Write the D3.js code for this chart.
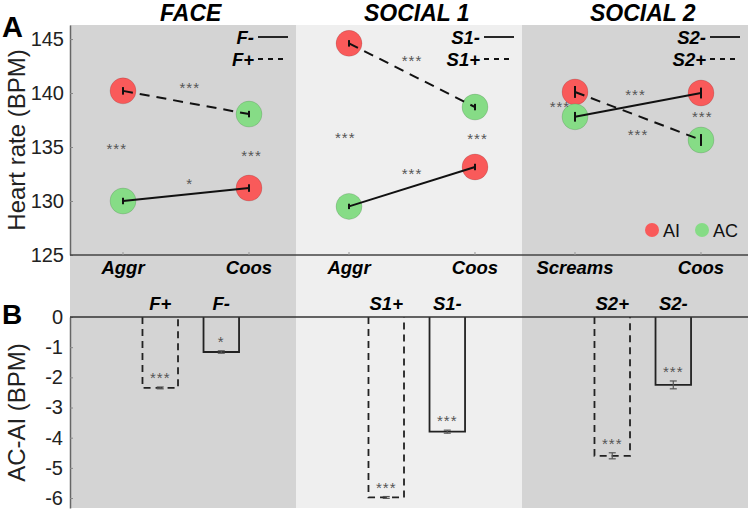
<!DOCTYPE html>
<html>
<head>
<meta charset="utf-8">
<script src="https://cdn.jsdelivr.net/npm/d3@7/dist/d3.min.js"></script>
<style>
  html, body { margin: 0; padding: 0; background: #fff; }
  svg { display: block; }
  text { font-family: "Liberation Sans", Arial, sans-serif; }
</style>
</head>
<body>
<svg id="chart" width="748" height="511"></svg>
<script>
// ---------------- DATA ----------------
const sections = ["FACE", "SOCIAL 1", "SOCIAL 2"];
const categories = [["Aggr", "Coos"], ["Aggr", "Coos"], ["Screams", "Coos"]];
const conditionLabels = [["F+", "F-"], ["S1+", "S1-"], ["S2+", "S2-"]];
const legendPlus = ["F+", "S1+", "S2+"];
const legendMinus = ["F-", "S1-", "S2-"];

// Panel A: heart rate (BPM)
// "+" condition (dashed): AI at first category -> AC at second category
const plusGroups = ["AI", "AC"];
const plusValues = [[140.2, 138.05], [144.6, 138.7], [140.1, 135.65]];
const plusErr = [[0.35, 0.3], [0.3, 0.3], [0.55, 0.55]];
// "-" condition (solid): AC at first category -> AI at second category
const minusGroups = ["AC", "AI"];
const minusValues = [[130.0, 131.2], [129.5, 133.15], [137.8, 140.0]];
const minusErr = [[0.3, 0.35], [0.25, 0.3], [0.45, 0.5]];

// significance marks in panel A: [section, position between categories (0..1), BPM, text]
const starsA = [
  [0, -0.05, 135.1, "***"], [0, 0.53, 140.7, "***"], [0, 1.02, 134.4, "***"], [0, 0.53, 131.85, "*"],
  [1, 0.5, 143.2, "***"], [1, -0.03, 136.1, "***"], [1, 1.02, 136.0, "***"], [1, 0.5, 132.8, "***"],
  [2, 0.48, 140.1, "***"], [2, -0.12, 139.0, "***"], [2, 1.01, 138.1, "***"], [2, 0.5, 136.4, "***"]
];

// Panel B: AC-AI (BPM), per section [plus, minus]
const diffValues = [[-2.35, -1.16], [-5.98, -3.8], [-4.6, -2.25]];
const diffErr = [[0.03, 0.04], [0.03, 0.05], [0.1, 0.13]];
const diffStars = [["***", "*"], ["***", "***"], ["***", "***"]];

const ticksA = [125, 130, 135, 140, 145];
const ticksB = [0, -1, -2, -3, -4, -5, -6];
const groupColors = { AI: "#f95a5a", AC: "#86dc86" };
const sectionFills = ["#d4d4d4", "#efefef", "#d4d4d4"];

// ---------------- SCALES ----------------
const svg = d3.select("#chart");
const left = 70, right = 748, topA = 25, bottomA = 255, zeroB = 317, bottomB = 508;

const xSec = d3.scaleBand().domain(sections).range([left, right]);
const bw = xSec.bandwidth();
const xPt = d3.scalePoint().domain([0, 1]).range([0, bw]).padding(0.397).align(0.53);
const xBar = d3.scaleBand().domain([0, 1]).range([0, bw]).paddingInner(0.418).paddingOuter(1.06).align(0.56);
const yA = d3.scaleLinear().domain([125, 146.3]).range([bottomA, topA]);
const yB = d3.scaleLinear().domain([-6.33, 0]).range([bottomB, zeroB]);

const ptX = (s, i) => xSec(sections[s]) + xPt(i);
const fracX = (s, f) => xSec(sections[s]) + xPt(0) + f * (xPt(1) - xPt(0));
const tickFmt = d => String(d);

// ---------------- BACKGROUNDS ----------------
svg.selectAll("rect.bg").data(sections).join("rect")
  .attr("class", "bg")
  .attr("x", d => xSec(d)).attr("width", bw)
  .attr("y", topA).attr("height", bottomB - topA)
  .attr("fill", (d, i) => sectionFills[i]);

// ---------------- TITLES ----------------
svg.selectAll("text.title").data(sections).join("text")
  .attr("class", "title")
  .attr("x", d => xSec(d) + (xBar(0) + xBar(1) + xBar.bandwidth()) / 2)
  .attr("y", 21)
  .attr("text-anchor", "middle")
  .attr("font-size", 23).attr("font-weight", "bold").attr("font-style", "italic")
  .text(d => d);

svg.append("text").attr("x", 2).attr("y", 37).attr("font-size", 29).attr("font-weight", "bold").text("A");
svg.append("text").attr("x", 2).attr("y", 324).attr("font-size", 28).attr("font-weight", "bold").text("B");

// ---------------- PANEL A AXES ----------------
const axA = svg.append("g").attr("transform", `translate(${left},0)`)
  .call(d3.axisLeft(yA).tickValues(ticksA).tickFormat(tickFmt).tickSize(-3).tickSizeOuter(0).tickPadding(6));
axA.select(".domain").attr("stroke", "#666").attr("stroke-width", 1.5);
axA.selectAll(".tick line").attr("stroke", "#888");
axA.selectAll(".tick text").attr("font-size", 20).attr("fill", "#222")
  .attr("font-family", "Liberation Sans, Arial, sans-serif");

svg.append("line").attr("x1", left).attr("x2", right).attr("y1", bottomA).attr("y2", bottomA)
  .attr("stroke", "#444").attr("stroke-width", 1.5);

svg.append("text")
  .attr("transform", `translate(25,${(topA + bottomA) / 2}) rotate(-90)`)
  .attr("text-anchor", "middle").attr("font-size", 24).attr("fill", "#222")
  .text("Heart rate (BPM)");

// category ticks and labels
sections.forEach((sec, s) => {
  [0, 1].forEach(i => {
    svg.append("line").attr("x1", ptX(s, i)).attr("x2", ptX(s, i))
      .attr("y1", bottomA).attr("y2", bottomA - 3).attr("stroke", "#999");
    svg.append("text").attr("x", ptX(s, i)).attr("y", 274)
      .attr("text-anchor", "middle").attr("font-size", 18.5)
      .attr("font-weight", "bold").attr("font-style", "italic")
      .text(categories[s][i]);
  });
});

// ---------------- PANEL A MARKS ----------------
const lineGen = d3.line().x(d => d.x).y(d => d.y);

function seriesPoints(values, groups, errs) {
  return values.map((vals, s) => vals.map((v, i) => ({
    s, i, v, group: groups[i], err: errs[s][i], x: ptX(s, i), y: yA(v)
  })));
}
const plusPts = seriesPoints(plusValues, plusGroups, plusErr);
const minusPts = seriesPoints(minusValues, minusGroups, minusErr);
const allPts = plusPts.flat().concat(minusPts.flat());

svg.selectAll("circle.pt").data(allPts).join("circle")
  .attr("class", "pt")
  .attr("cx", d => d.x).attr("cy", d => d.y).attr("r", 13)
  .attr("fill", d => groupColors[d.group])
  .attr("stroke", "rgba(0,0,0,0.12)").attr("stroke-width", 1);

// error bars
svg.selectAll("line.errA").data(allPts).join("line")
  .attr("class", "errA")
  .attr("x1", d => d.x).attr("x2", d => d.x)
  .attr("y1", d => yA(d.v - d.err)).attr("y2", d => yA(d.v + d.err))
  .attr("stroke", "#111").attr("stroke-width", 2);

svg.selectAll("path.plus").data(plusPts).join("path")
  .attr("class", "plus")
  .attr("d", d => lineGen(d)).attr("fill", "none")
  .attr("stroke", "#111").attr("stroke-width", 2).attr("stroke-dasharray", "10,7");
svg.selectAll("path.minus").data(minusPts).join("path")
  .attr("class", "minus")
  .attr("d", d => lineGen(d)).attr("fill", "none")
  .attr("stroke", "#111").attr("stroke-width", 2);

// stars in A
svg.selectAll("text.starA").data(starsA).join("text")
  .attr("class", "starA")
  .attr("x", d => fracX(d[0], d[1])).attr("y", d => yA(d[2]) + 8)
  .attr("text-anchor", "middle").attr("font-size", 15).attr("letter-spacing", 1)
  .attr("fill", "#555").text(d => d[3]);

// line-style legends
sections.forEach((sec, s) => {
  const end = xSec(sec) + bw;
  [[legendMinus[s], null, 44], [legendPlus[s], "5,5", 66]].forEach(([lab, dash, yy]) => {
    svg.append("text").attr("x", end - 42).attr("y", yy)
      .attr("text-anchor", "end")
      .attr("font-size", 18.5).attr("font-weight", "bold").attr("font-style", "italic").text(lab);
    svg.append("line").attr("x1", end - 38).attr("x2", end - 8)
      .attr("y1", yy - 7).attr("y2", yy - 7)
      .attr("stroke", "#111").attr("stroke-width", 1.8)
      .attr("stroke-dasharray", dash);
  });
});

// AI / AC legend
const legX = xSec(sections[2]) + bw;
[["AI", -96], ["AC", -46]].forEach(([g, off]) => {
  svg.append("circle").attr("cx", legX + off).attr("cy", 230).attr("r", 7).attr("fill", groupColors[g]);
  svg.append("text").attr("x", legX + off + 11).attr("y", 236.5)
    .attr("font-size", 18).attr("fill", "#111").text(g);
});

// ---------------- PANEL B ----------------
const axB = svg.append("g").attr("transform", `translate(${left},0)`)
  .call(d3.axisLeft(yB).tickValues(ticksB).tickFormat(tickFmt).tickSize(-3).tickSizeOuter(0).tickPadding(7));
axB.select(".domain").attr("stroke", "#666").attr("stroke-width", 1.5);
axB.selectAll(".tick line").attr("stroke", "#888");
axB.selectAll(".tick text").attr("font-size", 20).attr("fill", "#222")
  .attr("font-family", "Liberation Sans, Arial, sans-serif");

svg.append("text")
  .attr("transform", `translate(25,${(zeroB + bottomB) / 2}) rotate(-90)`)
  .attr("text-anchor", "middle").attr("font-size", 24).attr("fill", "#222")
  .text("AC-AI (BPM)");

const bars = diffValues.flatMap((vals, s) => vals.map((v, i) => ({
  s, i, v, err: diffErr[s][i], star: diffStars[s][i], label: conditionLabels[s][i],
  x: xSec(sections[s]) + xBar(i), w: xBar.bandwidth()
})));

svg.selectAll("path.bar").data(bars).join("path")
  .attr("class", "bar")
  .attr("d", d => {
    const y0 = yB(0), y1 = yB(d.v);
    return `M${d.x},${y0}V${y1}H${d.x + d.w}V${y0}`;
  })
  .attr("fill", "none").attr("stroke", "#222").attr("stroke-width", 1.8)
  .attr("stroke-dasharray", d => d.i === 0 ? "7,5" : null);

// bar error bars
const eb = svg.selectAll("g.eb").data(bars).join("g").attr("class", "eb")
  .attr("stroke", "#555").attr("stroke-width", 1.2);
eb.append("line").attr("x1", d => d.x + d.w / 2).attr("x2", d => d.x + d.w / 2)
  .attr("y1", d => yB(d.v - d.err)).attr("y2", d => yB(d.v + d.err));
eb.append("line").attr("x1", d => d.x + d.w / 2 - 3.5).attr("x2", d => d.x + d.w / 2 + 3.5)
  .attr("y1", d => yB(d.v - d.err)).attr("y2", d => yB(d.v - d.err));
eb.append("line").attr("x1", d => d.x + d.w / 2 - 3.5).attr("x2", d => d.x + d.w / 2 + 3.5)
  .attr("y1", d => yB(d.v + d.err)).attr("y2", d => yB(d.v + d.err));

svg.selectAll("text.starB").data(bars).join("text")
  .attr("class", "starB")
  .attr("x", d => d.x + d.w / 2).attr("y", d => yB(d.v + d.err) - 4)
  .attr("text-anchor", "middle").attr("font-size", 15).attr("letter-spacing", 1)
  .attr("fill", "#555").text(d => d.star);

svg.selectAll("text.barlab").data(bars).join("text")
  .attr("class", "barlab")
  .attr("x", d => d.x + d.w / 2).attr("y", 310)
  .attr("text-anchor", "middle").attr("font-size", 18.5)
  .attr("font-weight", "bold").attr("font-style", "italic")
  .text(d => d.label);

// zero line
svg.append("line").attr("x1", left).attr("x2", right).attr("y1", yB(0)).attr("y2", yB(0))
  .attr("stroke", "#333").attr("stroke-width", 1.6);
</script>
</body>
</html>
